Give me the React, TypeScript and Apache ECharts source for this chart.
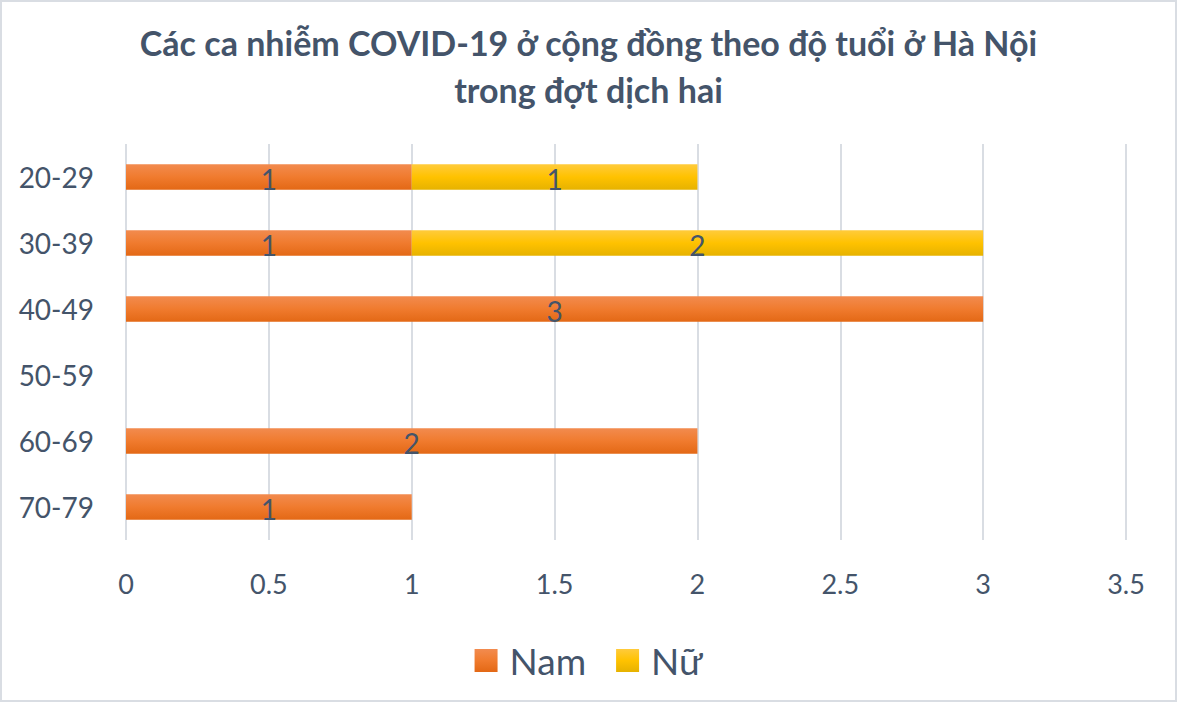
import React, { useEffect, useRef } from 'react';
import * as echarts from 'echarts';

// Age groups (top to bottom) and case counts per sex
const ageGroups = ['20-29', '30-39', '40-49', '50-59', '60-69', '70-79'];
const namCases = [1, 1, 3, null, 2, 1];
const nuCases = [1, 2, null, null, null, null];
const xTicks = [0, 0.5, 1, 1.5, 2, 2.5, 3, 3.5];

const TEXT = '#44546a';
const FONT = 'Lato, "Open Sans", sans-serif';

const orangeFill = new echarts.graphic.LinearGradient(0, 0, 0, 1, [
  { offset: 0, color: '#f28b4f' },
  { offset: 0.5, color: '#f07b2e' },
  { offset: 1, color: '#e36815' },
]);
const yellowFill = new echarts.graphic.LinearGradient(0, 0, 0, 1, [
  { offset: 0, color: '#ffcb3c' },
  { offset: 0.5, color: '#ffc200' },
  { offset: 1, color: '#e6b200' },
]);

export default function App() {
  const chartRef = useRef<HTMLDivElement>(null);

  useEffect(() => {
    document.body.style.margin = '0';
    if (!chartRef.current) return;
    const chart = echarts.init(chartRef.current, undefined, { renderer: 'svg' });

    const label = {
      show: true,
      position: 'inside' as const,
      color: TEXT,
      fontSize: 28,
      fontFamily: FONT,
      offset: [0, 2],
    };

    chart.setOption({
      animation: false,
      backgroundColor: '#fff',
      textStyle: { fontFamily: FONT },
      title: {
        text: 'Các ca nhiễm COVID-19 ở cộng đồng theo độ tuổi ở Hà Nội\ntrong đợt dịch hai',
        left: 'center',
        top: 12,
        textStyle: {
          color: TEXT,
          fontSize: 34,
          fontWeight: 'bold',
          fontFamily: FONT,
          lineHeight: 47,
        },
      },
      legend: {
        data: ['Nam', 'Nữ'],
        left: 'center',
        top: 635,
        icon: 'rect',
        itemWidth: 23,
        itemHeight: 23,
        itemGap: 30,
        textStyle: { color: TEXT, fontSize: 37, fontFamily: FONT, padding: [0, 0, 0, 7] },
      },
      grid: { left: 124, right: 49, top: 142, bottom: 160 },
      xAxis: {
        type: 'value',
        min: xTicks[0],
        max: xTicks[xTicks.length - 1],
        interval: 0.5,
        axisLine: { show: false },
        axisTick: { show: false },
        axisLabel: { color: TEXT, fontSize: 27, margin: 30, fontFamily: FONT },
        splitLine: { lineStyle: { color: '#d9dde3', width: 2 } },
      },
      yAxis: {
        type: 'category',
        data: ageGroups,
        inverse: true,
        axisLine: { show: false },
        axisTick: { show: false },
        axisLabel: { color: TEXT, fontSize: 28, margin: 32, fontFamily: FONT },
      },
      series: [
        {
          name: 'Nam',
          type: 'bar',
          stack: 'total',
          data: namCases,
          barWidth: '39%',
          itemStyle: { color: orangeFill },
          label,
        },
        {
          name: 'Nữ',
          type: 'bar',
          stack: 'total',
          data: nuCases,
          barWidth: '39%',
          itemStyle: { color: yellowFill },
          label,
        },
      ],
    });

    return () => chart.dispose();
  }, []);

  return (
    <div
      ref={chartRef}
      style={{
        width: 1177,
        height: 702,
        boxSizing: 'border-box',
        border: '2px solid #d9dde3',
      }}
    />
  );
}
